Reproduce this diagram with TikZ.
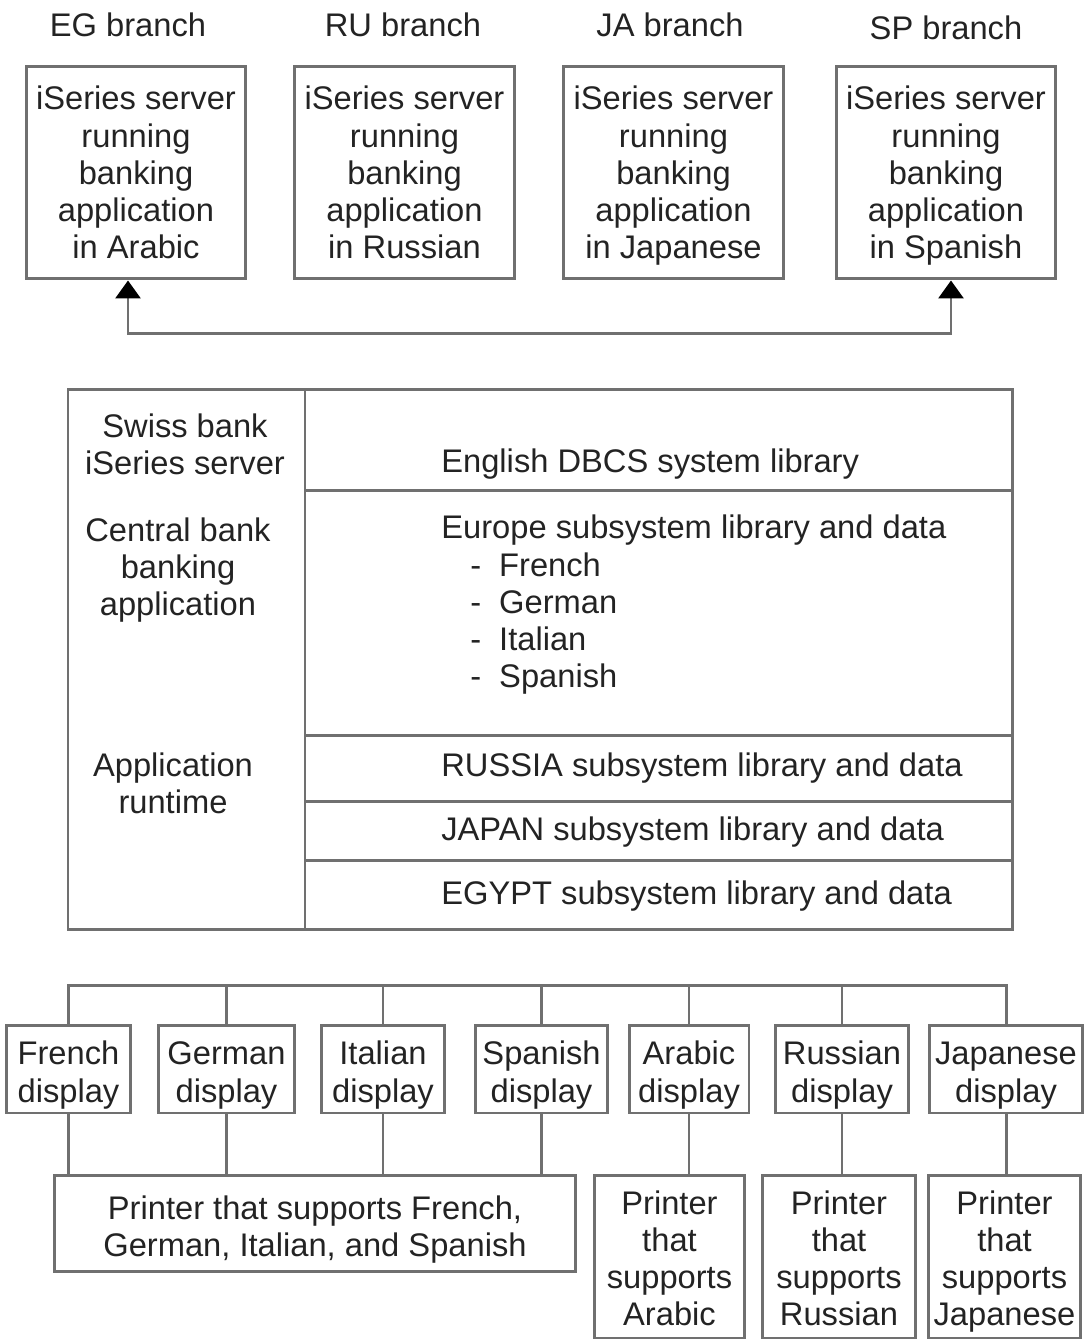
\documentclass[tikz,border=0pt]{standalone}
\usepackage{fontspec}
\setmainfont{Liberation Sans}
\usetikzlibrary{arrows.meta}
\definecolor{linegray}{RGB}{112,112,112}
\definecolor{textgray}{RGB}{35,35,35}
\begin{document}
\begin{tikzpicture}[x=0.02cm,y=-0.02cm,
				every node/.style={text=textgray,font=\fontsize{18.6}{21.2}\selectfont,inner sep=0pt,align=center},
				box/.style={draw=linegray,line width=1.7pt,text depth=0pt},
				server/.style={box,minimum width=4.4cm,minimum height=4.26cm,text height=98.2pt},
				display/.style={box,minimum height=1.76cm,text height=37.6pt},
				printer/.style={box,minimum height=3.26cm,text height=79pt},
				link/.style={draw=linegray,line width=1.7pt}]
\useasboundingbox (0,0) rectangle (1084,1340);
% branches
\node (eglabel) at (128,25) {EG branch};
\node (rulabel) at (403,25) {RU branch};
\node (jalabel) at (670,25) {JA branch};
\node (splabel) at (946,28) {SP branch};
\node[server] (eg) at (136,172.5) {iSeries server\\running\\banking\\application\\in Arabic};
\node[server] (ru) at (404.5,172.5) {iSeries server\\running\\banking\\application\\in Russian};
\node[server] (ja) at (673.5,172.5) {iSeries server\\running\\banking\\application\\in Japanese};
\node[server] (sp) at (946,172.5) {iSeries server\\running\\banking\\application\\in Spanish};
\coordinate (wan) at (540,333);
\draw[link,{Triangle[width=0.5cm,length=0.36cm,color=black]}-{Triangle[width=0.5cm,length=0.36cm,color=black]}]
	([xshift=-0.16cm]eg.south) |- (wan) -| ([xshift=0.1cm]sp.south);
% central server
\draw[link] (68,389) rectangle (1012,929);
\draw[link] (305,389) -- (305,929);
\foreach \y in {490,735,801,860}
	\draw[link] (305,\y) -- (1012,\y);
\node (swiss) at (185,444) {Swiss bank\\iSeries server};
\node (central) at (178,570) {Central bank\\banking\\application};
\node (runtime) at (173,783) {Application\\runtime};
\node[anchor=west] (syslib) at (441,464) {English DBCS system library};
\node[anchor=west,align=left] (europe) at (441,605) {Europe subsystem library and data\\
	\hspace*{0.58cm}-\hspace{0.36cm}French\\
	\hspace*{0.58cm}-\hspace{0.36cm}German\\
	\hspace*{0.58cm}-\hspace{0.36cm}Italian\\
	\hspace*{0.58cm}-\hspace{0.36cm}Spanish};
\node[anchor=west] (russia) at (441,768) {RUSSIA subsystem library and data};
\node[anchor=west] (japan) at (441,832) {JAPAN subsystem library and data};
\node[anchor=west] (egypt) at (441,896) {EGYPT subsystem library and data};
% displays
\node[display,minimum width=2.5cm] (frd) at (68.5,1069) {French\\display};
\node[display,minimum width=2.74cm] (ded) at (226.5,1069) {German\\display};
\node[display,minimum width=2.48cm] (itd) at (383,1069) {Italian\\display};
\node[display,minimum width=2.66cm] (esd) at (541.5,1069) {Spanish\\display};
\node[display,minimum width=2.4cm] (ard) at (689,1069) {Arabic\\display};
\node[display,minimum width=2.68cm] (rud) at (842,1069) {Russian\\display};
\node[display,minimum width=3.08cm] (jpd) at (1006,1069) {Japanese\\display};
\coordinate (bus) at (540,985);
\draw[link] (frd.north) |- (bus) -| (jpd.north);
\foreach \d in {ded,itd,esd,ard,rud}
	\draw[link] (\d.north) -- (\d.north |- bus);
% printers
\node[box,minimum width=10.44cm,minimum height=1.92cm,text height=38.6pt] (euprn) at (315,1223) {Printer that supports French,\\German, Italian, and Spanish};
\node[printer,minimum width=3.02cm] (arprn) at (669.5,1256.5) {Printer\\that\\supports\\Arabic};
\node[printer,minimum width=3.08cm] (ruprn) at (839,1256.5) {Printer\\that\\supports\\Russian};
\node[printer,minimum width=3.06cm] (jpprn) at (1004.5,1256.5) {Printer\\that\\supports\\Japanese};
\foreach \d in {frd,ded,itd,esd}
	\draw[link] (\d.south) -- (\d.south |- euprn.north);
\draw[link] (ard.south) -- (ard.south |- arprn.north);
\draw[link] (rud.south) -- (rud.south |- ruprn.north);
\draw[link] (jpd.south) -- (jpd.south |- jpprn.north);
\end{tikzpicture}
\end{document}
